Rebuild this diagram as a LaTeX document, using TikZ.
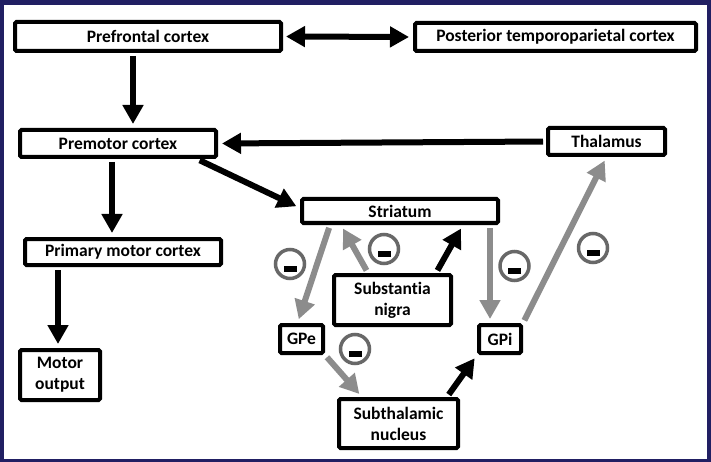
\documentclass[tikz,border=0pt]{standalone}
\usepackage{fontspec}
\setmainfont{Carlito}[Ligatures=NoCommon]
\usetikzlibrary{arrows.meta}
\definecolor{framenavy}{RGB}{33,31,99}
\definecolor{arrowgray}{RGB}{140,140,140}
\definecolor{ringgray}{RGB}{104,104,104}
\begin{document}
\begin{tikzpicture}[x=1pt, y=-1pt, every text node part/.style={align=center},
    box/.style={draw, line width=4pt, rounded corners=1.5pt, inner sep=0pt, font=\fontsize{17.5}{21}\selectfont\bfseries},
    blk/.style={line width=6pt, -{Triangle[length=19pt,width=20pt]}, shorten <=3pt, shorten >=4pt},
    blkboth/.style={blk, {Triangle[length=19pt,width=20pt]}-{Triangle[length=19pt,width=20pt]}},
    gry/.style={blk, draw=arrowgray},
    inhib/.style={circle, draw=ringgray, line width=3.5pt, minimum size=29pt, inner sep=0pt}]
            \fill[framenavy] (0,0) rectangle (711,462);
            \fill[white] (4,5) rectangle (707,459);
            \useasboundingbox (0,0) rectangle (711,462);

            \node[box, minimum width=266pt, minimum height=29pt] (pfc) at (148,36.5) {Prefrontal cortex};
            \node[box, minimum width=281pt, minimum height=28pt] (ptc) at (555.5,37) {Posterior temporoparietal cortex};
            \node[box, minimum width=196pt, minimum height=27pt] (pmc) at (118,143.5) {Premotor cortex};
            \node[box, minimum width=117pt, minimum height=27pt] (thal) at (606.5,141.5) {Thalamus};
            \node[box, minimum width=196pt, minimum height=26pt] (m1) at (123,252) {Primary motor cortex};
            \node[box, minimum width=80pt, minimum height=50pt] (mout) at (60,375) {Motor\\output};
            \node[box, minimum width=196pt, minimum height=24pt] (str) at (400,211) {Striatum};
            \node[box, minimum width=117pt, minimum height=50pt] (sn) at (392.5,300) {Substantia\\nigra};
            \node[box, minimum width=43pt, minimum height=28pt] (gpe) at (301.5,339) {GPe};
            \node[box, minimum width=42pt, minimum height=28pt] (gpi) at (500,339) {GPi};
            \node[box, minimum width=119pt, minimum height=49pt] (stn) at (398.5,423.5) {Subthalamic\\nucleus};

            \draw[blkboth] (pfc.east) -- (ptc.west);
            \draw[blk] ([xshift=-15pt]pfc.south) -- ([xshift=15pt]pmc.north);
            \draw[blk] (thal.west) -- (pmc.east);
            \draw[blk] ([xshift=-6pt]pmc.south) -- ([xshift=-11pt]m1.north);
            \draw[blk] ([xshift=-65pt]m1.south) -- ([xshift=-2pt]mout.north);
            \draw[blk] ([xshift=-21pt]pmc.south east) -- ([yshift=3pt]str.west);
            \draw[gry] ([xshift=30pt]str.south west) -- ([xshift=-4pt]gpe.north);
            \draw[gry] ([xshift=36pt]sn.north west) -- ([xshift=41pt]str.south west);
            \draw[blk] ([xshift=-17pt]sn.north east) -- ([xshift=-37pt]str.south east);
            \draw[gry] ([xshift=-10pt]str.south east) -- ([xshift=-10pt]gpi.north);
            \draw[gry] (gpi.north east) -- (thal.south);
            \draw[gry] (gpe.south east) -- ([xshift=25pt]stn.north west);
            \draw[blk] ([xshift=-13pt]stn.north east) -- (gpi.south west);

            \foreach \nm/\px/\py in {inA/290/264, inB/384/249, inC/514.5/266, inD/593/248, inE/355/349} {
                \node[inhib] (\nm) at (\px,\py) {};
                \fill ([shift={(-6.5pt,-8pt)}]\nm.center) rectangle ([shift={(6.5pt,-2pt)}]\nm.center);
            }
        \end{tikzpicture}
\end{document}
